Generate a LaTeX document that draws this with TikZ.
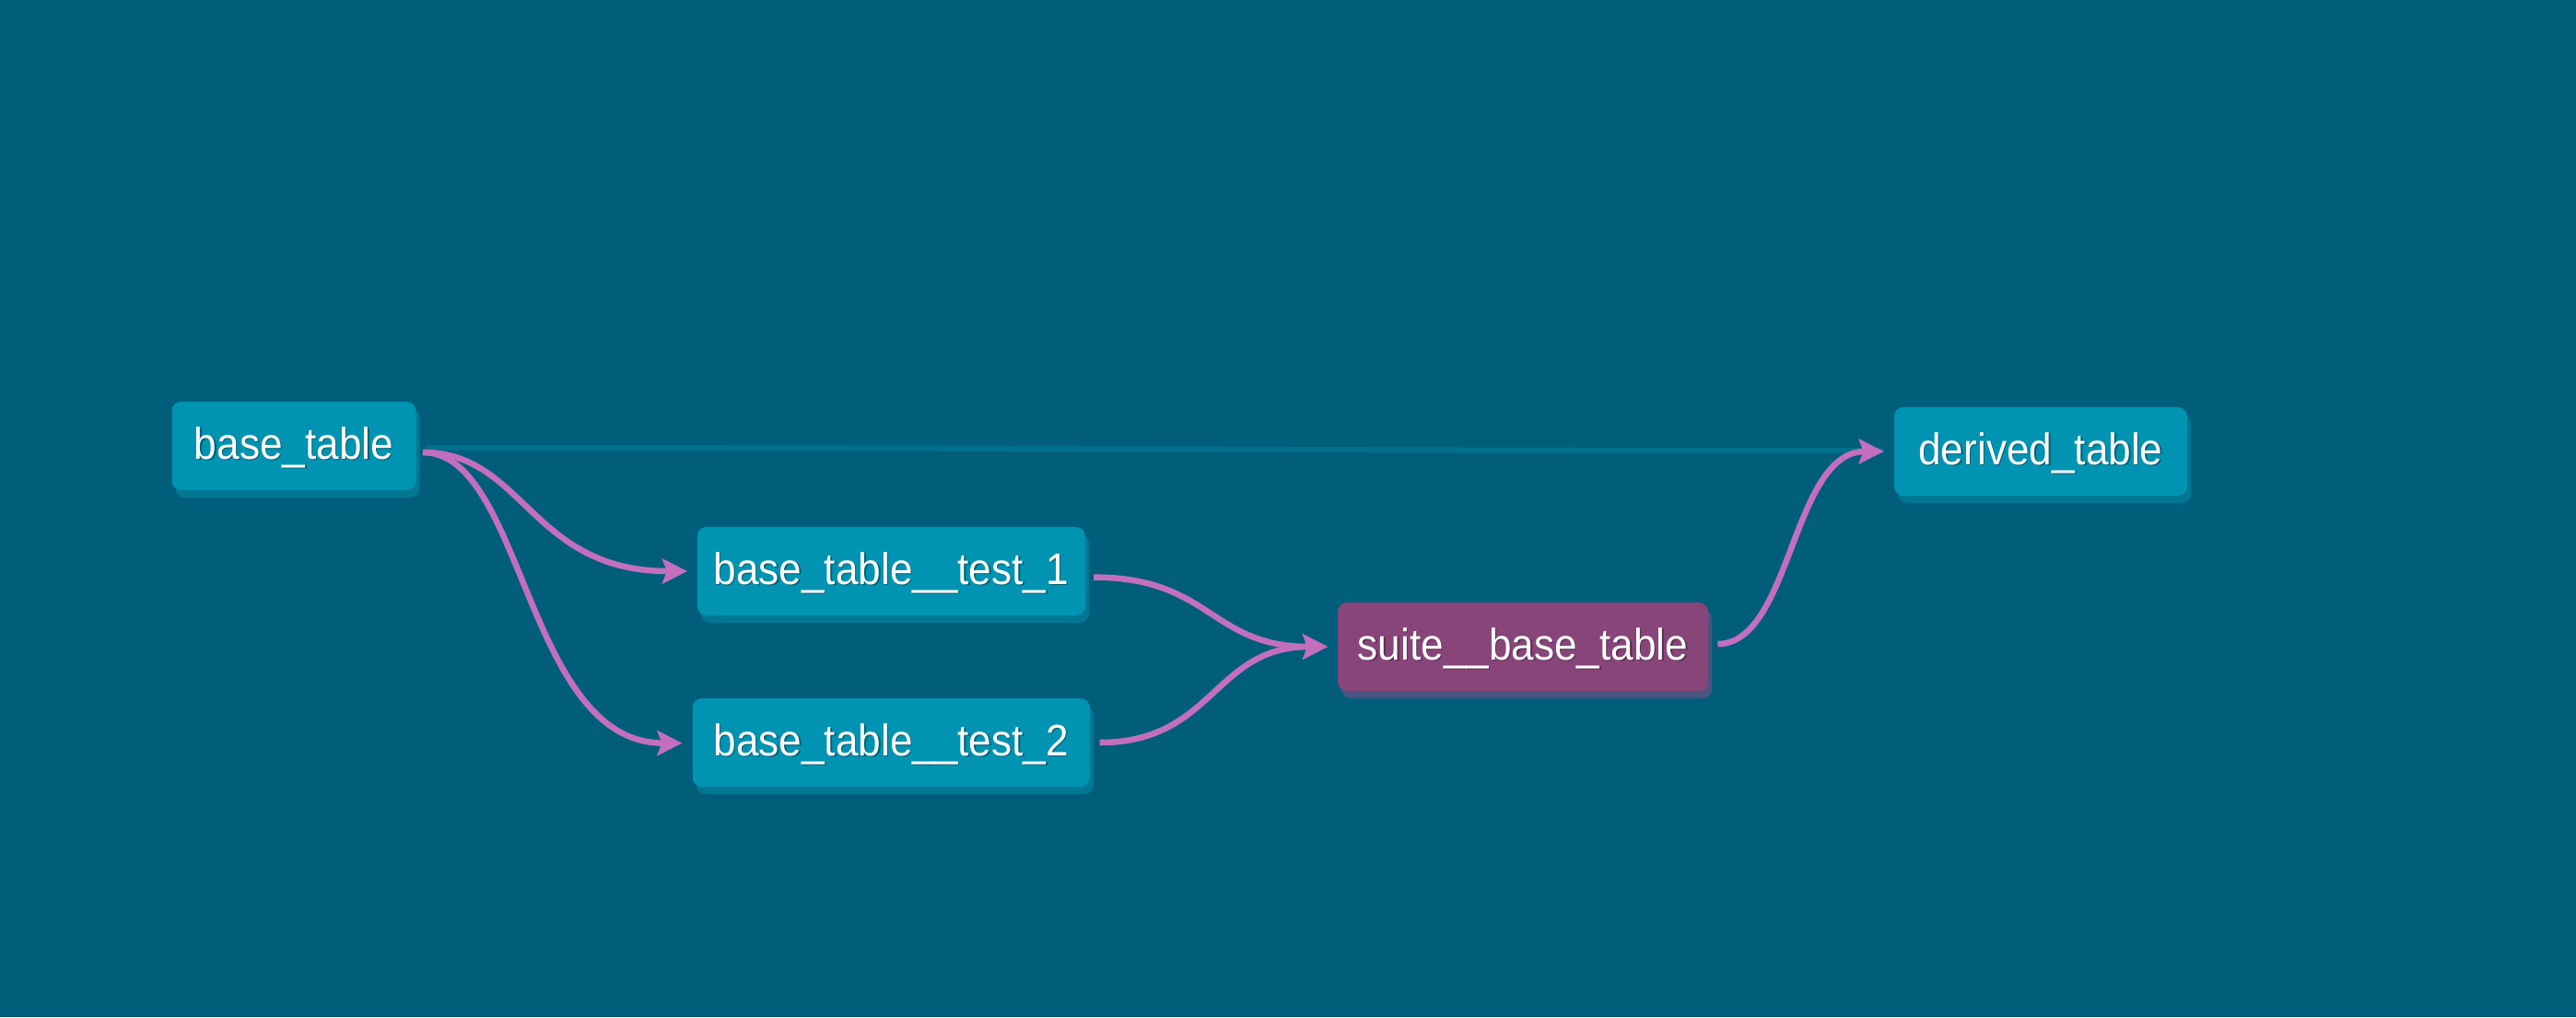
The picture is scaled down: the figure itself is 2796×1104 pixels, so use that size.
\documentclass[tikz,border=0pt]{standalone}
\usepackage{fontspec}
\setmainfont{Liberation Sans}[FakeStretch=0.92]
\usetikzlibrary{arrows.meta,shadows}
\definecolor{bgcol}{HTML}{005E7A}
\definecolor{nodecol}{HTML}{0093B2}
\definecolor{shadcol}{HTML}{007894}
\definecolor{suitecol}{HTML}{88457A}
\definecolor{suiteshad}{HTML}{4B5480}
\definecolor{linkcol}{HTML}{C36FBE}
\definecolor{faintcol}{HTML}{00708C}
\colorlet{txtshA}{black!35!nodecol}
\colorlet{txtshB}{black!35!suitecol}
\newcommand{\shtxt}[2]{\makebox[0pt][l]{\hspace{0.7pt}\raisebox{-0.7pt}{\textcolor{#1}{#2}}}#2}
\begin{document}
\begin{tikzpicture}[x=0.5pt,y=-0.5pt,
  tbl/.style={rectangle, rounded corners=5pt, fill=nodecol, text=white,
    font=\fontsize{24}{28}\selectfont, inner sep=0pt, minimum height=48pt,
    text height=17pt, text depth=3pt,
    general shadow={shadow xshift=2pt, shadow yshift=-4pt, fill=shadcol}},
  suite/.style={tbl, fill=suitecol,
    general shadow={shadow xshift=2pt, shadow yshift=-4pt, fill=suiteshad}},
  link/.style={draw=linkcol, line width=3.25pt,
    -{Stealth[length=13.5pt,width=13.5pt,inset=2.5pt]}},
  faint/.style={draw=faintcol, line width=3pt}]
\fill[bgcol] (0,0) rectangle (2796,1104);
\useasboundingbox (0,0) rectangle (2796,1104);

\node[tbl, minimum width=132.5pt] (bt) at (319,484) {\shtxt{txtshA}{base\_table}};
\node[tbl, minimum width=210.5pt] (t1) at (967.3,620) {\shtxt{txtshA}{base\_table\_\_test\_1}};
\node[tbl, minimum width=215.5pt] (t2) at (967.3,806) {\shtxt{txtshA}{base\_table\_\_test\_2}};
\node[suite, minimum width=201pt] (st) at (1653,702) {\shtxt{txtshB}{suite\_\_base\_table}};
\node[tbl, minimum width=159pt] (dt) at (2215,490) {\shtxt{txtshA}{derived\_table}};

\draw[faint] ([xshift=5pt,yshift=-1pt]bt.east) .. controls +(700,0) and +(-700,0) .. ([xshift=-5.5pt,yshift=0.5pt]dt.west);
\draw[link] ([xshift=3.5pt,yshift=-3.5pt]bt.east) .. controls +(110,0) and +(-170,0) .. ([xshift=-5.25pt]t1.west);
\draw[link] ([xshift=3.5pt,yshift=-3.5pt]bt.east) .. controls +(110,0) and +(-170,0) .. ([xshift=-5.5pt,yshift=-0.3pt]t2.west);
\draw[link] ([xshift=4.5pt,yshift=-3.3pt]t1.east) .. controls +(127,0) and +(-127,0) .. ([xshift=-5.25pt]st.west);
\draw[link] ([xshift=5.2pt]t2.east) .. controls +(124,0) and +(-124,0) .. ([xshift=-5.25pt]st.west);
\draw[link] ([xshift=5pt,yshift=1.5pt]st.east) .. controls +(80,0) and +(-100,0) .. ([xshift=-5.5pt]dt.west);
\end{tikzpicture}
\end{document}
